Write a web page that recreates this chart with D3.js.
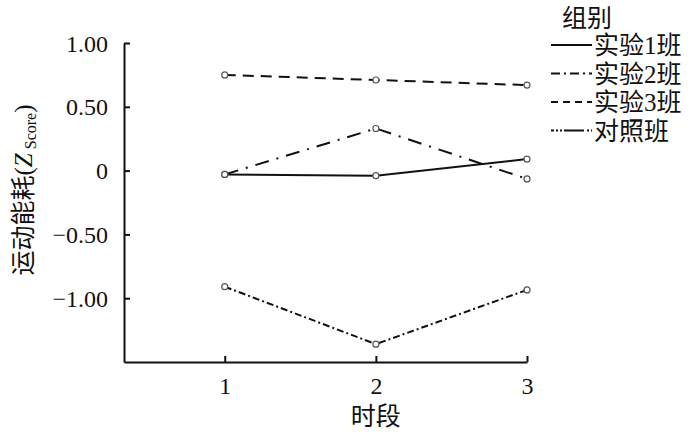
<!DOCTYPE html>
<html><head><meta charset="utf-8">
<script src="https://cdn.jsdelivr.net/npm/d3@7"></script>
<style>
html,body{margin:0;padding:0;background:#fff;}
svg text{font-family:"Liberation Serif","Noto Sans CJK SC",serif !important;fill:#111;}
</style></head>
<body><svg id="chart" width="700" height="434"></svg>
<script>
const periods = [1, 2, 3];
const seriesNames = ["实验1班", "实验2班", "实验3班", "对照班"];
const exp1 = [-0.03, -0.04, 0.09];
const exp2 = [-0.03, 0.33, -0.065];
const exp3 = [0.75, 0.71, 0.67];
const control = [-0.91, -1.36, -0.935];
const yTicks = [1.0, 0.5, 0, -0.5, -1.0];
const yTickLabels = ["1.00", "0.50", "0", "\u22120.50", "\u22121.00"];
const xTitle = "时段";
const legendTitle = "组别";

const seriesValues = [exp1, exp2, exp3, control];
const dashes = [null, "14,8,2,8", "11,7", "7,3,2,3"];
const legendDashes = [null, "9,4,2,4", "7,5", "3,2,2,2,2,2,20"];
const FONT = '"Liberation Serif","Noto Sans CJK SC",serif';

const svg = d3.select("#chart");
const x = d3.scaleLinear().domain([1/3, 3]).range([124, 527]);
const y = d3.scaleLinear().domain([-1.5, 1.0]).range([362, 43]);

// Y axis
const yAxis = d3.axisLeft(y).tickValues(yTicks)
  .tickFormat((d, i) => yTickLabels[i]).tickSizeInner(-6).tickSizeOuter(0).tickPadding(16);
const gy = svg.append("g").attr("transform", "translate(124,0)").call(yAxis).attr("font-family", FONT);
gy.selectAll("text").style("font-size", "24px").attr("dy", "0.34em");
gy.selectAll("path,line").attr("stroke", "#111").attr("stroke-width", 2);

// X axis
const xAxis = d3.axisBottom(x).tickValues(periods).tickFormat(d3.format("d"))
  .tickSizeInner(-6).tickSizeOuter(0).tickPadding(15);
const gx = svg.append("g").attr("transform", "translate(0,362)").call(xAxis).attr("font-family", FONT);
gx.selectAll("text").style("font-size", "24px");
gx.selectAll("path,line").attr("stroke", "#111").attr("stroke-width", 2);

svg.append("text").attr("x", x(2)).attr("y", 425).attr("text-anchor", "middle")
  .style("font-size", "25px").text(xTitle);

// Y title
const yt = svg.append("text").attr("transform", "translate(32,190) rotate(-90)")
  .attr("text-anchor", "middle").style("font-size", "25px");
yt.append("tspan").text("运动能耗(");
yt.append("tspan").style("font-style", "italic").text("Z");
yt.append("tspan").style("font-size", "16px").attr("dy", "4").text(" Score");
yt.append("tspan").attr("dy", "-4").text(")");

// Lines
const line = d3.line().x((d, i) => x(periods[i])).y(d => y(d));
seriesValues.forEach((vals, k) => {
  svg.append("path").datum(vals).attr("d", line)
    .attr("fill", "none").attr("stroke", "#111").attr("stroke-width", 2)
    .attr("stroke-dasharray", dashes[k]);
});
seriesValues.forEach((vals) => {
  svg.selectAll(null).data(vals).enter().append("circle")
    .attr("cx", (d, i) => x(periods[i])).attr("cy", d => y(d)).attr("r", 3)
    .attr("fill", "#fff").attr("stroke", "#555").attr("stroke-width", 1.2);
});

// Legend
svg.append("text").attr("x", 562).attr("y", 27).style("font-size", "25px").text(legendTitle);
const lg = svg.append("g");
seriesNames.forEach((name, k) => {
  const ry = 45 + k * 28.5;
  lg.append("line").attr("x1", 551).attr("x2", 592).attr("y1", ry).attr("y2", ry)
    .attr("stroke", "#111").attr("stroke-width", 1.8).attr("stroke-dasharray", legendDashes[k]);
  lg.append("text").attr("x", 594).attr("y", ry + 9).style("font-size", "25px").text(name);
});
</script></body></html>
